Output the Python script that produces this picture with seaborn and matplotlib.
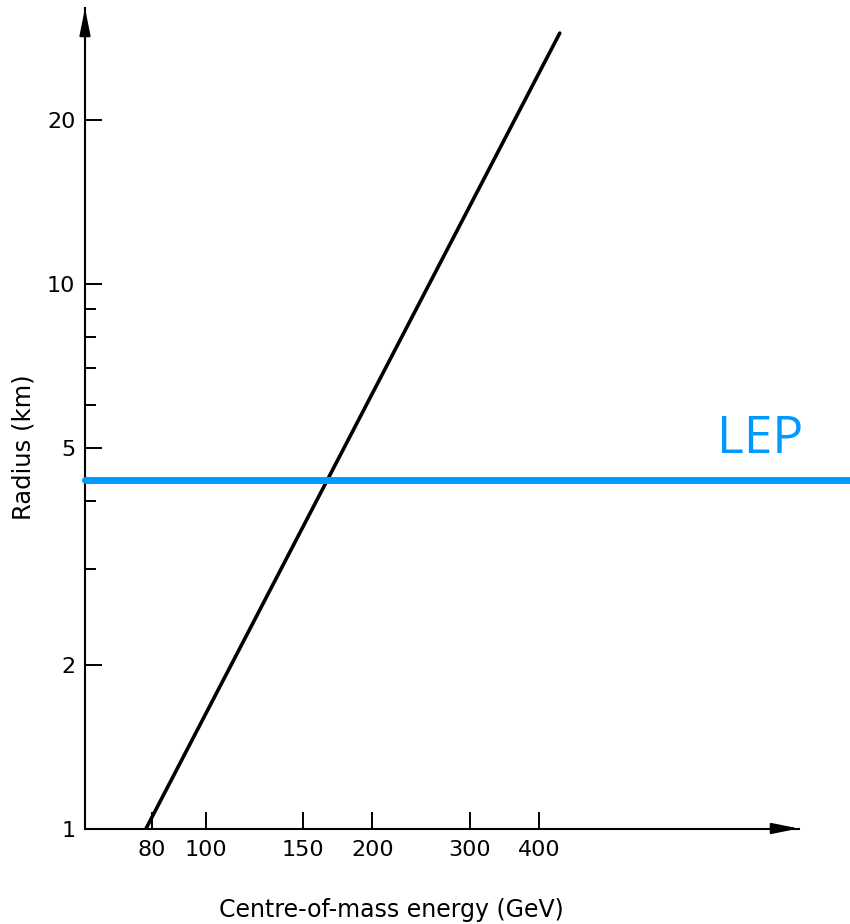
import matplotlib
matplotlib.use("Agg")
import matplotlib.pyplot as plt
from matplotlib.ticker import FixedLocator, NullLocator, NullFormatter
import seaborn as sns
import pandas as pd

# Collider radius versus centre-of-mass energy (log-log)
energy_gev = [78.0, 436.0]
radius_km = [1.0, 28.9]

x_ticks = [80, 100, 150, 200, 300, 400]
x_tick_labels = ["80", "100", "150", "200", "300", "400"]
y_ticks = [1, 2, 5, 10, 20]
y_tick_labels = ["1", "2", "5", "10", "20"]
y_minor_ticks = [3, 4, 6, 7, 8, 9]

lep_radius_km = 4.37
lep_label = "LEP"
lep_color = "#0099ff"

sns.set_theme(style="ticks")
plt.rcParams["font.family"] = ["DejaVu Sans"]

fig = plt.figure(figsize=(8.5, 9.24), dpi=100)
ax = fig.add_axes([0.1, 0.10335, 0.84, 0.888])

df = pd.DataFrame({"energy": energy_gev, "radius": radius_km})
sns.lineplot(data=df, x="energy", y="radius", ax=ax, color="black",
             linewidth=2.6, zorder=3)

ax.set_xscale("log")
ax.set_yscale("log")
ax.set_xlim(60.5, 1179.6)
ax.set_ylim(1.0, 32.14)

ax.xaxis.set_major_locator(FixedLocator(x_ticks))
ax.set_xticklabels(x_tick_labels)
ax.xaxis.set_minor_locator(NullLocator())
ax.yaxis.set_major_locator(FixedLocator(y_ticks))
ax.set_yticklabels(y_tick_labels)
ax.yaxis.set_minor_locator(FixedLocator(y_minor_ticks))
ax.yaxis.set_minor_formatter(NullFormatter())

ax.tick_params(axis="both", which="major", direction="in", length=12,
               width=1.4, colors="black", labelsize=16)
ax.tick_params(axis="y", which="minor", direction="in", length=8,
               width=1.4, colors="black")
ax.tick_params(axis="x", which="major", pad=8)
ax.tick_params(axis="y", which="major", pad=7)

for side in ("top", "right"):
    ax.spines[side].set_visible(False)
for side in ("left", "bottom"):
    ax.spines[side].set_linewidth(1.5)
    ax.spines[side].set_color("black")

# arrowheads at the ends of both axes
arrow_kw = dict(arrowstyle="-|>,head_length=1.1,head_width=0.22",
                color="black", lw=1.5, shrinkA=0, shrinkB=0,
                mutation_scale=15)
ax.annotate("", xy=(1.0, 0.0), xytext=(0.96, 0.0),
            xycoords="axes fraction", textcoords="axes fraction",
            arrowprops=arrow_kw, annotation_clip=False)
ax.annotate("", xy=(0.0, 1.0), xytext=(0.0, 0.96),
            xycoords="axes fraction", textcoords="axes fraction",
            arrowprops=arrow_kw, annotation_clip=False)

ax.set_xlabel("Centre-of-mass energy (GeV)", fontsize=17, color="black")
ax.xaxis.set_label_coords(0.4286, -0.0993)
ax.xaxis.label.set_va("center")
ax.set_ylabel("Radius (km)", fontsize=17.5, color="black")
ax.yaxis.set_label_coords(-0.0855, 0.465)
ax.yaxis.label.set_va("center")

# LEP ring radius
ax.axhline(lep_radius_km, xmin=0.0, xmax=1.0714, color=lep_color,
           linewidth=5, clip_on=False, zorder=4)
ax.text(0.885, 0.4576, lep_label, transform=ax.transAxes, ha="left",
        va="baseline", fontsize=37, color=lep_color, family="Open Sans")

ax.set_facecolor("white")
fig.patch.set_facecolor("white")
fig.savefig("out.png", dpi=100)
